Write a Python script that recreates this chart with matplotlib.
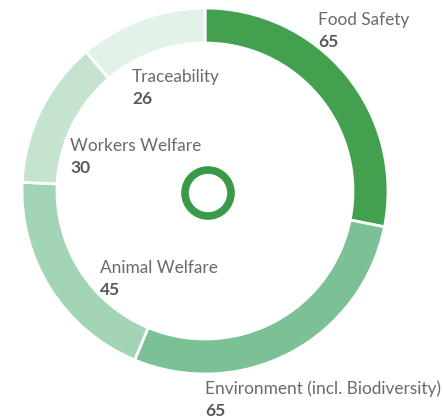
import matplotlib.pyplot as plt
from matplotlib.patches import Circle

categories = ["Food Safety", "Environment (incl. Biodiversity)", "Animal Welfare",
              "Workers Welfare", "Traceability"]
values = [65, 65, 45, 30, 26]
colors = ["#43a04e", "#7cc196", "#a2d4b6", "#c4e4d0", "#e3f2e9"]

# label anchor points in pixel coords (top-left origin)
label_pos = [(318, 20), (205, 389), (100, 268), (70, 146), (132, 77)]

W, H = 443, 420
fig = plt.figure(figsize=(W / 100, H / 100), dpi=100)
ax = fig.add_axes([0, 0, 1, 1])

cx, cy, r = 205, H - 191, 183
ax.pie(values, colors=colors, startangle=90, counterclock=False,
       center=(cx, cy), radius=r, frame=True,
       wedgeprops=dict(width=35, edgecolor="white", linewidth=2))
ax.set_xlim(0, W)
ax.set_ylim(0, H)
ax.axis("off")

ax.add_patch(Circle((208, H - 193), 23, fill=False, edgecolor="#3a9a48", linewidth=5.5))

for name, val, (x, y) in zip(categories, values, label_pos):
    ax.text(x, H - y, name, fontsize=12.4, color="#6a6a6a", family="Lato",
            va="center", ha="left")
    ax.text(x, H - y - 22, str(val), fontsize=12.5, color="#595959", family="Lato",
            fontweight="bold", va="center", ha="left")

fig.savefig("out.png", dpi=100)
